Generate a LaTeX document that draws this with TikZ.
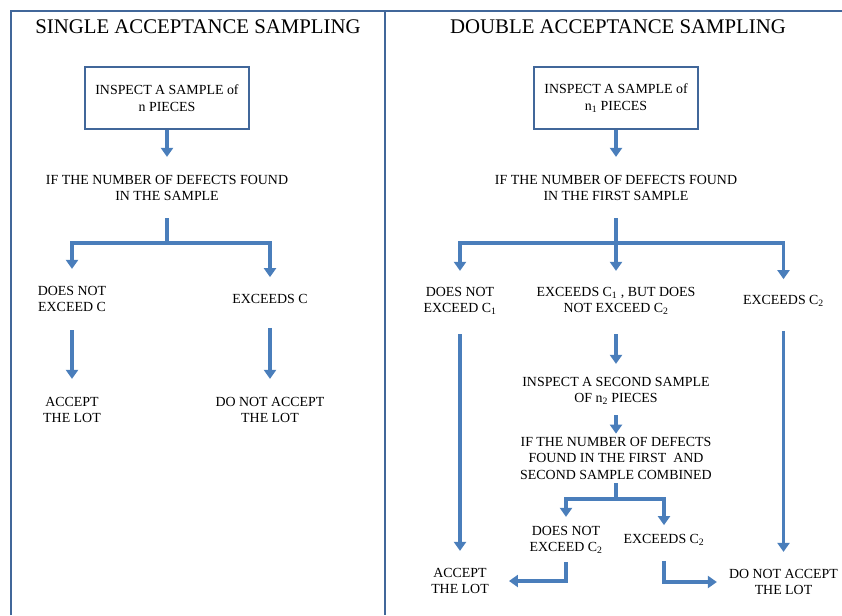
\documentclass[tikz,border=0pt]{standalone}
\usepackage{fontspec}
\setmainfont{Liberation Serif}
\usetikzlibrary{arrows.meta}
\definecolor{flowblue}{RGB}{74,126,187}
\definecolor{frameblue}{RGB}{65,103,154}
\begin{document}
\begin{tikzpicture}[x=1pt, y=-1pt,
    txt/.style = {align=center, inner sep=0pt, font=\fontsize{13.9}{16.5}\selectfont},
    ttl/.style = {inner sep=0pt, font=\fontsize{20.8}{24}\selectfont},
    box/.style = {draw=frameblue, line width=2.4pt, minimum width=164pt, minimum height=62pt, txt},
    ln/.style = {flowblue, line width=3.6pt},
    arr/.style = {ln, -{Triangle[width=12pt,length=9pt]}}]
    \useasboundingbox (0,0) rectangle (842,615);
    % frame
    \draw[frameblue, line width=1.8pt] (11,615) -- (11,11) -- (842,11);
    \draw[frameblue, line width=2.2pt] (385,11) -- (385,615);

    % single sampling
    \draw(198, 27) node [ttl](ltitle){SINGLE ACCEPTANCE SAMPLING};
    \draw(167, 98) node [box](lbox){INSPECT A SAMPLE of\\n PIECES};
    \draw(167, 188) node [txt](lq){IF THE NUMBER OF DEFECTS FOUND\\IN THE SAMPLE};
    \coordinate (lsplit) at (167, 243);
    \draw(72, 299) node [txt](lno){DOES NOT\\EXCEED C};
    \draw(270, 299) node [txt](lyes){EXCEEDS C};
    \draw(72, 410) node [txt](lacc){ACCEPT\\THE LOT};
    \draw(270, 410) node [txt](lrej){DO NOT ACCEPT\\THE LOT};

    \draw[arr, shorten >=18pt] (lbox) -- (lq.north);
    \draw[ln, shorten <=17pt] (lq.south) -- (lsplit);
    \draw[arr, shorten >=17pt] (lsplit) -| (lno.north);
    \draw[arr, shorten >=17pt] (lsplit) -| (lyes.north);
    \draw[arr, shorten <=18pt, shorten >=18pt] (lno.south) -- (lacc.north);
    \draw[arr, shorten <=24pt, shorten >=18pt] (lyes.south) -- (lrej.north);

    % double sampling
    \draw(618, 27) node [ttl](rtitle){DOUBLE ACCEPTANCE SAMPLING};
    \draw(616, 98) node [box](rbox){INSPECT A SAMPLE of\\n\textsubscript{1} PIECES};
    \draw(616, 188) node [txt](rq){IF THE NUMBER OF DEFECTS FOUND\\IN THE FIRST SAMPLE};
    \coordinate (rsplit) at (616, 243);
    \draw(460, 301) node [txt](rno){DOES NOT\\EXCEED C\textsubscript{1}};
    \draw(616, 301) node [txt](rmid){EXCEEDS C\textsubscript{1} , BUT DOES\\NOT EXCEED C\textsubscript{2}};
    \draw(783.5, 301) node [txt](ryes){EXCEEDS C\textsubscript{2}};
    \draw(616, 391) node [txt](rsec){INSPECT A SECOND SAMPLE\\OF n\textsubscript{2} PIECES};
    \draw(616, 458) node [txt](rq2){IF THE NUMBER OF DEFECTS\\FOUND IN THE FIRST~ AND\\SECOND SAMPLE COMBINED};
    \coordinate (r2split) at (616, 499);
    \draw(566, 540) node [txt](r2no){DOES NOT\\EXCEED C\textsubscript{2}};
    \draw(664, 540) node [txt](r2yes){EXCEEDS C\textsubscript{2}};
    \draw(460, 581) node [txt](racc){ACCEPT\\THE LOT};
    \draw(783.5, 582) node [txt](rrej){DO NOT ACCEPT\\THE LOT};

    \draw[arr, shorten >=18pt] (rbox) -- (rq.north);
    \draw[ln, shorten <=17pt] (rq.south) -- (rsplit);
    \draw[arr, shorten >=16pt] (rsplit) -| (rno.north);
    \draw[arr, shorten >=16pt] (rsplit) -- (rmid.north);
    \draw[arr, shorten >=16pt] (rsplit) -| (ryes.north);
    \draw[arr, shorten <=19pt, shorten >=17pt] (rno.south) -- (racc.north);
    \draw[arr, shorten <=19pt, shorten >=13pt] (rmid.south) -- (rsec.north);
    \draw[arr, shorten <=24pt, shorten >=17pt] (ryes.south) -- (rrej.north);
    \draw[arr, shorten <=10pt, shorten >=3pt] (rsec.south) -- (rq2.north);
    \draw[ln, shorten <=4pt] (rq2.south) -- (r2split);
    \draw[arr, shorten >=9pt] (r2split) -| (r2no.north);
    \draw[arr, shorten >=9pt] (r2split) -| (r2yes.north);
    \draw[arr, shorten <=8pt, shorten >=20pt] (r2no.south) |- (racc.east);
    \draw[arr, shorten <=15pt, shorten >=12pt] (r2yes.south) |- (rrej.west);
\end{tikzpicture}
\end{document}
